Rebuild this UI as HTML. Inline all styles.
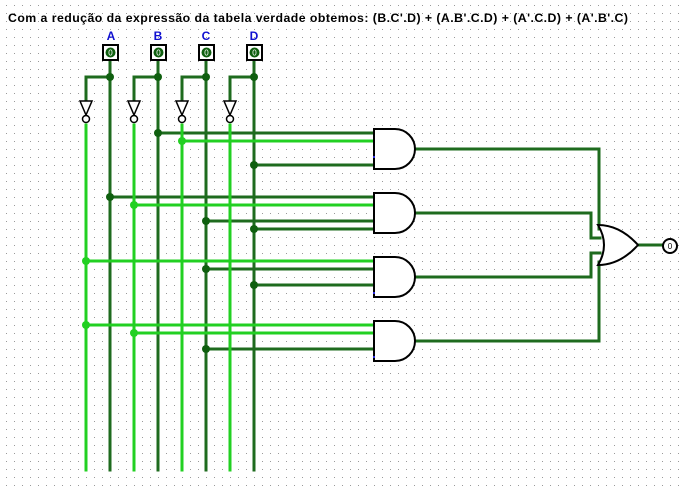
<!DOCTYPE html>
<html><head><meta charset="utf-8"><style>
html,body{margin:0;padding:0;background:#fff}
svg{display:block}
</style></head><body>
<svg width="685" height="491" viewBox="0 0 685 491" xmlns="http://www.w3.org/2000/svg">
<defs>
<pattern id="g" x="5" y="4" width="8" height="8" patternUnits="userSpaceOnUse">
<rect x="1" y="1" width="1" height="1" fill="#9a9a9a"/>
</pattern>
</defs>
<rect width="685" height="491" fill="#fff"/>
<rect width="685" height="491" fill="url(#g)"/>
<text x="8" y="22" font-family="Liberation Sans, sans-serif" font-weight="bold" font-size="12.3" fill="#000" textLength="620" lengthAdjust="spacing">Com a redução da expressão da tabela verdade obtemos: (B.C'.D) + (A.B'.C.D) + (A'.C.D) + (A'.B'.C)</text>

<g font-family="Liberation Sans, sans-serif" font-weight="bold" font-size="12" fill="#1010d0" text-anchor="middle">
<text x="111" y="40">A</text><text x="158" y="40">B</text><text x="206" y="40">C</text><text x="254" y="40">D</text>
</g>

<g stroke-width="3" fill="none" stroke-linecap="square">
<g stroke="#1e6b1e">
<path d="M110 62V470M158 62V470M206 62V470M254 62V470"/>
<path d="M110 77H86V100M158 77H134V100M206 77H182V100M254 77H230V100"/>
<path d="M158 133H374M254 165H374"/>
<path d="M110 197H374M206 221H374M254 229H374"/>
<path d="M206 269H374M254 285H374"/>
<path d="M206 349H374"/>
<path d="M415 149H599V229H600M415 213H591V238H600M415 277H591V253H600M415 341H599V262H600"/>
<path d="M638 245H662"/>
</g>
<g stroke="#22d022">
<path d="M86 125V470M134 125V470M182 125V470M230 125V470"/>
<path d="M182 141H374"/>
<path d="M134 205H374"/>
<path d="M86 261H374"/>
<path d="M86 325H374M134 333H374"/>
</g>
</g>

<g fill="#0f5f0f">
<circle cx="110" cy="77" r="4"/><circle cx="158" cy="77" r="4"/><circle cx="206" cy="77" r="4"/><circle cx="254" cy="77" r="4"/>
<circle cx="158" cy="133" r="4"/><circle cx="254" cy="165" r="4"/>
<circle cx="110" cy="197" r="4"/><circle cx="206" cy="221" r="4"/><circle cx="254" cy="229" r="4"/>
<circle cx="206" cy="269" r="4"/><circle cx="254" cy="285" r="4"/>
<circle cx="206" cy="349" r="4"/>
</g>
<g fill="#22d022">
<circle cx="182" cy="141" r="4"/><circle cx="134" cy="205" r="4"/>
<circle cx="86" cy="261" r="4"/><circle cx="86" cy="325" r="4"/><circle cx="134" cy="333" r="4"/>
</g>

<g>
<rect x="103" y="45" width="15" height="15" fill="#fff" stroke="#000" stroke-width="2"/>
<rect x="151" y="45" width="15" height="15" fill="#fff" stroke="#000" stroke-width="2"/>
<rect x="199" y="45" width="15" height="15" fill="#fff" stroke="#000" stroke-width="2"/>
<rect x="247" y="45" width="15" height="15" fill="#fff" stroke="#000" stroke-width="2"/>
<g fill="#0f5f0f"><circle cx="110.5" cy="52.5" r="5"/><circle cx="158.5" cy="52.5" r="5"/><circle cx="206.5" cy="52.5" r="5"/><circle cx="254.5" cy="52.5" r="5"/></g>
<g font-family="Liberation Sans, sans-serif" font-size="8" fill="#fff" text-anchor="middle">
<text x="110.5" y="55.5">0</text><text x="158.5" y="55.5">0</text><text x="206.5" y="55.5">0</text><text x="254.5" y="55.5">0</text>
</g>
</g>

<g fill="#fff" stroke="#000" stroke-width="1.5">
<path d="M80 101H92L86 115Z"/><circle cx="86" cy="119" r="3.5"/>
<path d="M128 101H140L134 115Z"/><circle cx="134" cy="119" r="3.5"/>
<path d="M176 101H188L182 115Z"/><circle cx="182" cy="119" r="3.5"/>
<path d="M224 101H236L230 115Z"/><circle cx="230" cy="119" r="3.5"/>
</g>

<g fill="#fff" stroke="#000" stroke-width="2">
<path d="M374 129H395A20 20 0 0 1 395 169H374Z"/>
<path d="M374 193H395A20 20 0 0 1 395 233H374Z"/>
<path d="M374 257H395A20 20 0 0 1 395 297H374Z"/>
<path d="M374 321H395A20 20 0 0 1 395 361H374Z"/>
</g>
<g fill="#3030e0">
<rect x="373" y="156" width="2" height="2"/><rect x="373" y="292" width="2" height="2"/><rect x="373" y="356" width="2" height="2"/>
</g>

<path d="M598 225Q620 225 638 245Q620 265 598 265Q610 245 598 225Z" fill="#fff" stroke="#000" stroke-width="2"/>
<circle cx="670" cy="246" r="7" fill="#fff" stroke="#000" stroke-width="2"/>
<text x="670" y="249" font-family="Liberation Sans, sans-serif" font-size="8" text-anchor="middle">0</text>
</svg>
</body></html>
